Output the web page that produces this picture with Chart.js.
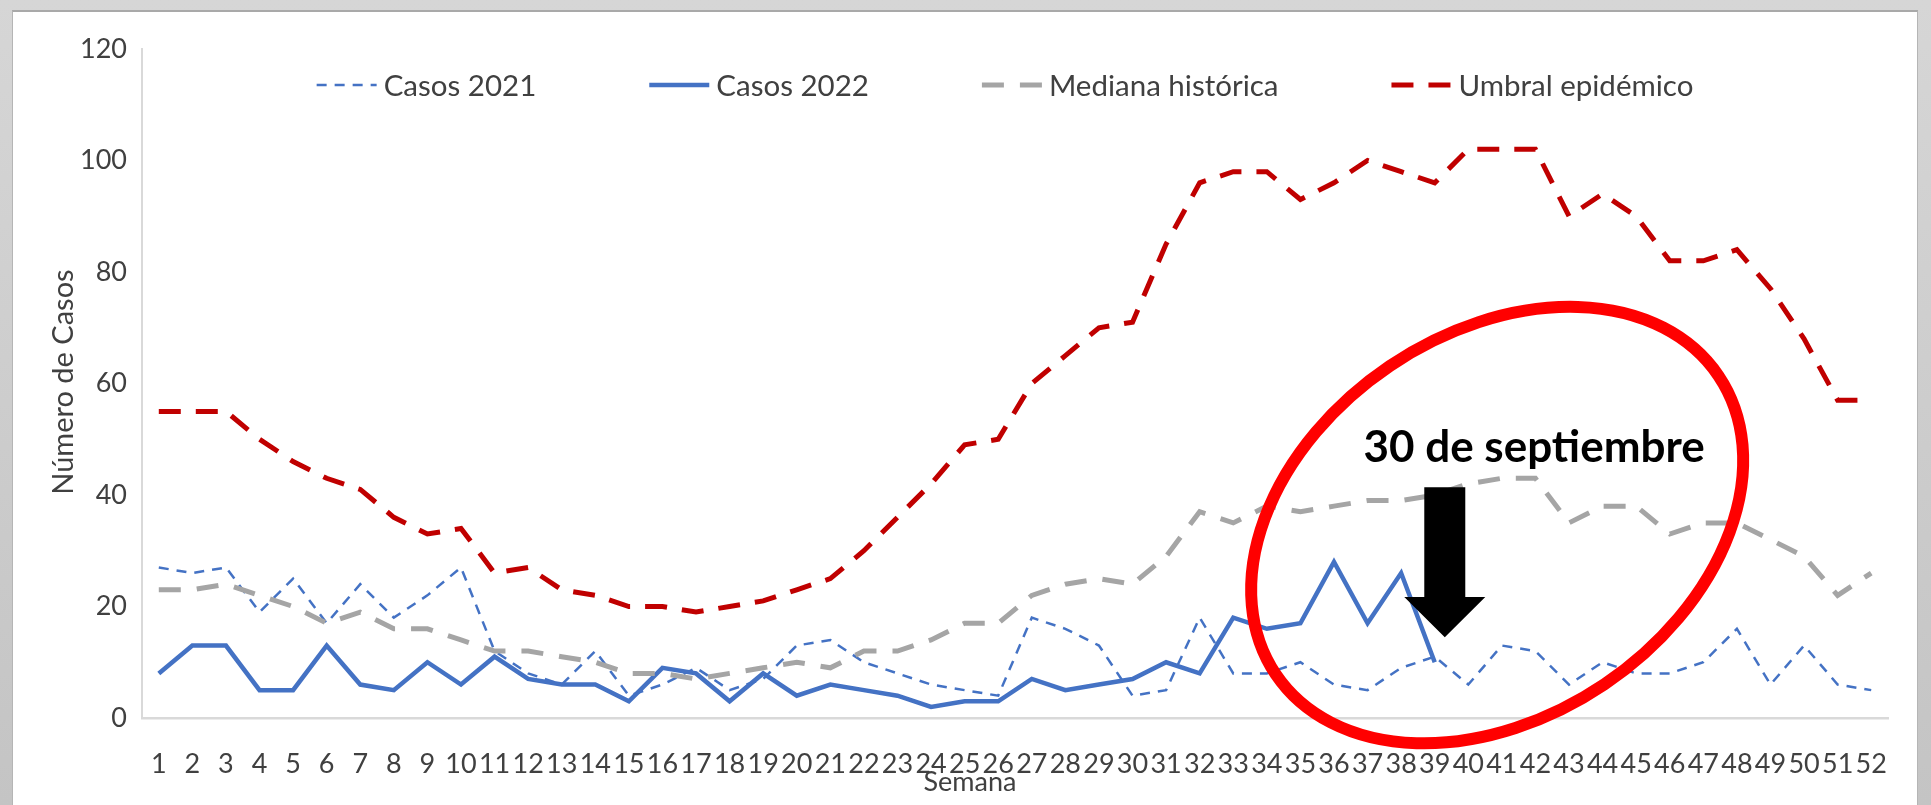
<!DOCTYPE html>
<html>
<head>
<meta charset="utf-8">
<script src="https://cdn.jsdelivr.net/npm/chart.js@4.4.0/dist/chart.umd.min.js"></script>
<style>
html,body{margin:0;padding:0;width:1931px;height:805px;overflow:hidden;background:#fff;}
#frame{position:absolute;left:0;top:0;width:1931px;height:805px;background:linear-gradient(#d6d6d6,#c4c4c4);}
#inner{position:absolute;left:12px;top:10px;width:1906px;height:800px;background:#fff;border-top:2px solid #a9a9a9;border-left:1px solid #b5b5b5;border-right:1px solid #b5b5b5;box-sizing:border-box;}
#wrap{position:absolute;left:0;top:0;width:1931px;height:805px;}
</style>
</head>
<body>
<div id="frame"></div>
<div id="inner"></div>
<div id="wrap"><canvas id="c" width="1931" height="805"></canvas></div>
<script>
// ---- data ----
const weeks = ['1','2','3','4','5','6','7','8','9','10','11','12','13','14','15','16','17','18','19','20','21','22','23','24','25','26','27','28','29','30','31','32','33','34','35','36','37','38','39','40','41','42','43','44','45','46','47','48','49','50','51','52'];
const casos2021 = [27,26,27,19,25,17,24,18,22,27, 12,8,6,12,4,6,9,5,7,13, 14,10,8,6,5,4,18,16,13,4, 5,18,8,8,10,6,5,9,11,6, 13,12,6,10,8,8,10,16,6,13, 6,5];
const casos2022 = [8,13,13,5,5,13,6,5,10,6, 11,7,6,6,3,9,8,3,8,4, 6,5,4,2,3,3,7,5,6,7, 10,8,18,16,17,28,17,26,10, null,null,null,null,null,null,null,null,null,null,null,null,null];
const medianaHistorica = [23,23,24,22,20,17,19,16,16,14, 12,12,11,10,8,8,7,8,9,10, 9,12,12,14,17,17,22,24,25,24, 29,37,35,38,37,38,39,39,40,42, 43,43,35,38,38,33,35,35,32,29, 22,26];
const umbralEpidemico = [55,55,55,50,46,43,41,36,33,34, 26,27,23,22,20,20,19,20,21,23, 25,30,36,42,49,50,60,65,70,71, 85,96,98,98,93,96,100,98,96,102, 102,102,90,94,90,82,82,84,77,68, 57,57];
const seriesLabels = ['Casos 2021','Casos 2022','Mediana histórica','Umbral epidémico'];
const yTicks = [0,20,40,60,80,100,120];
const yTitle = 'Número de Casos';
const xTitle = 'Semana';
const noteText = '30 de septiembre';
// annotation anchors in data space (category index, value)
const noteAt = [40.96, 48.5];
const arrowAt = {index: 38.3, top: 41.4, headBase: 21.7, tip: 14.5};
const ellipseAt = [39.86, 34.6];

Chart.defaults.font.family = 'Lato, "Open Sans", sans-serif';
Chart.defaults.color = '#404040';

const customLegend = {
  id: 'customLegend',
  afterDraw(chart) {
    const {ctx, chartArea} = chart;
    ctx.save();
    ctx.font = '29.5px Lato';
    ctx.textBaseline = 'middle';
    ctx.textAlign = 'left';
    const sample = 60, gapT = 7, gapItem = 113;
    const items = chart.data.datasets.map(d => ({d, w: ctx.measureText(d.label).width}));
    const total = items.reduce((s, it) => s + sample + gapT + it.w, 0) + gapItem * (items.length - 1);
    let xx = (chartArea.left + chartArea.right) / 2 - total / 2 - 10;
    const yy = 85;
    items.forEach(it => {
      ctx.beginPath();
      ctx.strokeStyle = it.d.borderColor;
      ctx.lineWidth = it.d.borderWidth;
      ctx.setLineDash(it.d.borderDash || []);
      ctx.moveTo(xx, yy); ctx.lineTo(xx + sample, yy);
      ctx.stroke();
      ctx.setLineDash([]);
      ctx.fillStyle = '#404040';
      ctx.fillText(it.d.label, xx + sample + gapT, yy + 1);
      xx += sample + gapT + it.w + gapItem;
    });
    // axis titles
    ctx.font = '27px Lato';
    ctx.textAlign = 'center';
    ctx.fillText(xTitle, 970, 782);
    ctx.save();
    ctx.font = '29px Lato';
    ctx.translate(64, 382);
    ctx.rotate(-Math.PI / 2);
    ctx.fillText(yTitle, 0, 0);
    ctx.restore();
    ctx.restore();
  }
};

const annotations = {
  id: 'annotations',
  afterDatasetsDraw(chart) {
    const {ctx, scales: {x, y}} = chart;
    ctx.save();
    // ellipse
    ctx.beginPath();
    ctx.ellipse(x.getPixelForValue(ellipseAt[0]), y.getPixelForValue(ellipseAt[1]), 267, 192, -34 * Math.PI / 180, 0, Math.PI * 2);
    ctx.strokeStyle = '#ff0000';
    ctx.lineWidth = 12;
    ctx.stroke();
    // text
    ctx.font = 'bold 44px Lato';
    ctx.fillStyle = '#000';
    ctx.textAlign = 'center';
    ctx.textBaseline = 'middle';
    ctx.fillText(noteText, x.getPixelForValue(noteAt[0]), y.getPixelForValue(noteAt[1]));
    // arrow
    const ax = x.getPixelForValue(arrowAt.index);
    const yT = y.getPixelForValue(arrowAt.top), yB = y.getPixelForValue(arrowAt.headBase), yP = y.getPixelForValue(arrowAt.tip);
    const sh = 20.5, hh = 40.5;
    ctx.beginPath();
    ctx.moveTo(ax - sh, yT); ctx.lineTo(ax + sh, yT); ctx.lineTo(ax + sh, yB); ctx.lineTo(ax + hh, yB);
    ctx.lineTo(ax, yP); ctx.lineTo(ax - hh, yB); ctx.lineTo(ax - sh, yB); ctx.closePath();
    ctx.fill();
    ctx.restore();
  }
};

new Chart(document.getElementById('c'), {
  type: 'line',
  data: {
    labels: weeks,
    datasets: [
      {label: seriesLabels[0], data: casos2021, borderColor: '#4472C4', borderWidth: 2.5, borderDash: [10, 8], pointRadius: 0, order: 4},
      {label: seriesLabels[1], data: casos2022, borderColor: '#4472C4', borderWidth: 4.5, pointRadius: 0, order: 3},
      {label: seriesLabels[2], data: medianaHistorica, borderColor: '#A5A5A5', borderWidth: 5, borderDash: [22, 16], pointRadius: 0, order: 2},
      {label: seriesLabels[3], data: umbralEpidemico, borderColor: '#C00000', borderWidth: 5, borderDash: [22, 15], pointRadius: 0, order: 1}
    ]
  },
  options: {
    responsive: false,
    animation: false,
    devicePixelRatio: 1,
    layout: {padding: {left: 0, top: 49, right: 43, bottom: 0}},
    plugins: {legend: {display: false}, tooltip: {enabled: false}},
    elements: {line: {tension: 0, borderCapStyle: 'butt'}},
    scales: {
      x: {
        offset: true,
        grid: {display: false, drawTicks: false},
        border: {display: true, color: '#d9d9d9', width: 2.5},
        ticks: {autoSkip: false, maxRotation: 0, minRotation: 0, padding: 30, font: {size: 27}, color: '#404040'},
        afterFit: s => { s.height = 87; }
      },
      y: {
        min: 0, max: 120,
        afterBuildTicks: s => { s.ticks = yTicks.map(v => ({value: v})); },
        grid: {display: false, drawTicks: false},
        border: {display: true, color: '#d9d9d9', width: 2},
        ticks: {padding: 15, font: {size: 27}, color: '#404040'},
        afterFit: s => { s.width = 142; }
      }
    }
  },
  plugins: [annotations, customLegend]
});
</script>
</body>
</html>
